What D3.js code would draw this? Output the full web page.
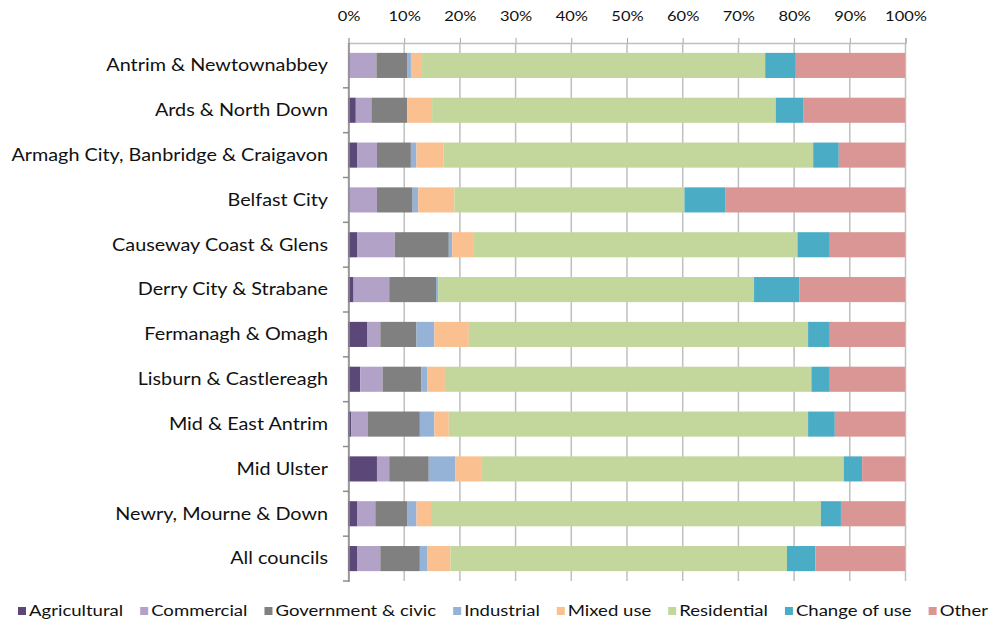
<!DOCTYPE html>
<html><head><meta charset="utf-8">
<script src="https://cdn.jsdelivr.net/npm/d3@7"></script>
<style>body{margin:0;background:#fff;}svg{display:block;font-family:Lato,"Open Sans",sans-serif;}</style>
</head><body><svg id="c" width="991" height="622"></svg>
<script>
const categories = ["Antrim & Newtownabbey","Ards & North Down","Armagh City, Banbridge & Craigavon","Belfast City","Causeway Coast & Glens","Derry City & Strabane","Fermanagh & Omagh","Lisburn & Castlereagh","Mid & East Antrim","Mid Ulster","Newry, Mourne & Down","All councils"];
const seriesNames = ["Agricultural","Commercial","Government & civic","Industrial","Mixed use","Residential","Change of use","Other"];
const agricultural = [0.0,1.4,1.7,0.0,1.7,1.0,3.5,2.2,0.6,5.2,1.7,1.7];
const commercial   = [5.1,2.8,3.5,5.2,6.7,6.4,2.3,4.0,2.9,2.2,3.2,4.1];
const government   = [5.5,6.4,6.1,6.4,9.7,8.4,6.5,7.0,9.4,7.1,5.8,7.1];
const industrial   = [0.7,0.1,1.0,1.0,0.6,0.4,3.2,1.0,2.6,4.8,1.6,1.3];
const mixedUse     = [2.0,4.4,4.9,6.5,3.9,0.0,6.2,3.2,2.6,4.6,2.6,4.2];
const residential  = [61.6,61.7,66.4,41.3,58.1,56.7,60.9,65.8,64.5,65.1,70.0,60.4];
const changeOfUse  = [5.5,4.9,4.6,7.4,5.8,8.1,3.9,3.3,4.8,3.3,3.6,5.1];
const other        = [19.6,18.3,11.9,32.2,13.5,19.0,13.5,13.5,12.6,7.7,11.5,16.1];
const tickValues = [0,10,20,30,40,50,60,70,80,90,100];
const colors = ["#5b4778","#b3a2c7","#808080","#95b3d7","#fac090","#c3d69b","#4bacc6","#d99694"];

const seriesArrays = [agricultural,commercial,government,industrial,mixedUse,residential,changeOfUse,other];
const rows = categories.map((c,i)=>{const o={cat:c}; seriesNames.forEach((s,j)=>o[s]=seriesArrays[j][i]); return o;});
const stack = d3.stack().keys(seriesNames).offset(d3.stackOffsetExpand)(rows);

const svg = d3.select("#c");
const m = {left:348, right:905, top:43, bottom:581};
const x = d3.scaleLinear().domain([0,1]).range([m.left,m.right]);
const y = d3.scaleBand().domain(categories).range([m.top,m.bottom]).paddingInner(0.44).paddingOuter(0.22);
const yb = d3.scaleBand().domain(categories).range([m.top,m.bottom]);
const gridCol = "#bfbfbf";
const textCol = "#111";

// gridlines
svg.append("g").selectAll("line").data(tickValues).join("line")
  .attr("x1",d=>x(d/100)+0.5).attr("x2",d=>x(d/100)+0.5).attr("y1",m.top).attr("y2",m.bottom)
  .attr("stroke",gridCol).attr("stroke-width",1.5);

// top axis
const topAxis = svg.append("g").attr("transform",`translate(0.5,${m.top})`)
  .call(d3.axisTop(x).tickValues(tickValues.map(d=>d/100)).tickFormat(d=>Math.round(d*100)+"%").tickSize(5).tickPadding(17));
topAxis.select(".domain").attr("stroke",gridCol).attr("stroke-width",1.5);
topAxis.selectAll(".tick line").attr("stroke","#a6a6a6");
topAxis.selectAll("text").attr("font-size",13.5).attr("fill",textCol).attr("font-family","Lato")
  .attr("transform","scale(1.22,1)");

// bars
svg.append("g").selectAll("g").data(stack).join("g").attr("fill",(d,i)=>colors[i])
  .selectAll("rect").data(d=>d).join("rect")
  .attr("x",d=>x(d[0])).attr("width",d=>Math.max(0,x(d[1])-x(d[0])))
  .attr("y",d=>y(d.data.cat)).attr("height",y.bandwidth());

// left axis
const leftAxis = svg.append("g").attr("transform",`translate(${m.left+1},0)`);
leftAxis.append("line").attr("x1",0).attr("x2",0).attr("y1",m.top).attr("y2",m.bottom+1).attr("stroke","#8c8c8c").attr("stroke-width",1.5);
leftAxis.selectAll(".tk").data(categories).join("line").attr("class","tk")
  .attr("x1",-6).attr("x2",0)
  .attr("y1",(d,i)=>m.top+(i+1)*yb.step()).attr("y2",(d,i)=>m.top+(i+1)*yb.step())
  .attr("stroke","#8c8c8c").attr("stroke-width",1.5);
svg.append("g").selectAll("g").data(categories).join("g")
  .attr("transform",d=>`translate(328,${y(d)+y.bandwidth()/2}) scale(1.2,1)`)
  .append("text").attr("dy","0.35em")
  .attr("text-anchor","end").attr("font-size",16.5).attr("fill",textCol).text(d=>d);

// legend
const lScale = 1.28;
const lg = svg.append("g").attr("transform","translate(0,611)");
const items = lg.selectAll("g").data(seriesNames).join("g");
items.append("rect").attr("width",8).attr("height",8).attr("y",-4).attr("fill",(d,i)=>colors[i]);
items.append("text").attr("transform",`translate(11,0) scale(${lScale},1)`).attr("dy","0.35em")
  .attr("font-size",14.5).attr("fill",textCol).text(d=>d);
const widths = items.nodes().map(n=>11+lScale*n.querySelector("text").getComputedTextLength());
const total = d3.sum(widths);
const startX = 18, endX = 988;
const gap = (endX-startX-total)/(seriesNames.length-1);
let cx = startX;
items.attr("transform",(d,i)=>{const t=`translate(${cx},0)`; cx+=widths[i]+gap; return t;});
</script></body></html>
